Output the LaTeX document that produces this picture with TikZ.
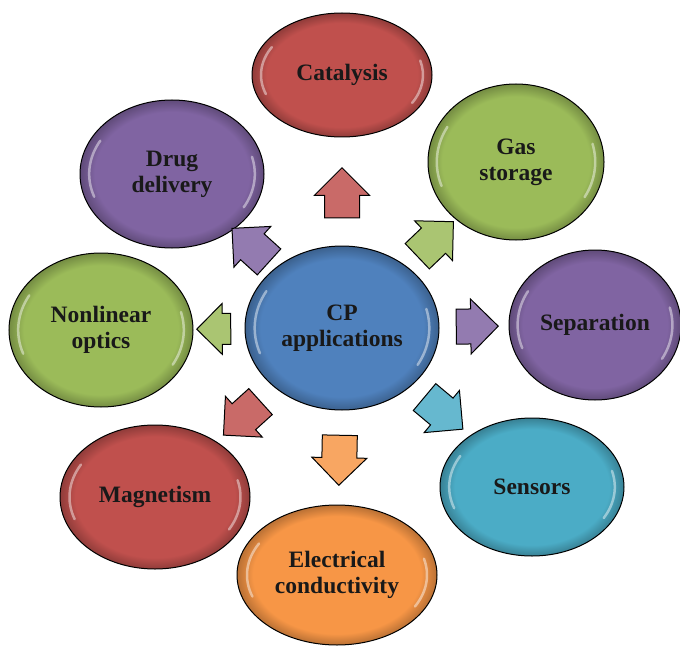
\documentclass[tikz,border=0pt]{standalone}
\usepackage{fontspec}
\setmainfont{Liberation Serif}
\usetikzlibrary{shapes.geometric, shapes.arrows, calc}

\definecolor{cpblue}{HTML}{4F81BD}
\definecolor{cpred}{HTML}{C0504D}
\definecolor{cpgreen}{HTML}{9BBB59}
\definecolor{cppurple}{HTML}{8064A2}
\definecolor{cpcyan}{HTML}{4BACC6}
\definecolor{cporange}{HTML}{F79646}

% flat body with a darker rim
\colorlet{bubblefill}{white}
\pgfdeclareradialshading[bubblefill]{bubble}{\pgfpoint{0bp}{0bp}}{%
  color(0bp)=(bubblefill); color(21bp)=(bubblefill);
  color(25bp)=(bubblefill!75!black); color(50bp)=(bubblefill!75!black)}

\begin{document}
\begin{tikzpicture}[
      x=1pt, y=-1pt,
      gloss/.style={white, opacity=0.45, line width=2.5pt, line cap=round},
      bubble/.style={ellipse, draw=black, line width=1pt, inner sep=0pt, align=center,
        text=black!90, font=\fontsize{23.5}{26}\selectfont\bfseries,
        /utils/exec={\colorlet{bubblefill}{#1}}, shade, shading=bubble,
        path picture={
          \draw[gloss] let \p1=(path picture bounding box.center),
              \p2=(path picture bounding box.north east),
              \n1={0.9*(\x2-\x1)}, \n2={0.9*(\y2-\y1)} in
            (\p1) ++(150:\n1 and \n2) arc[start angle=150, end angle=200, x radius=\n1, y radius=\n2]
            (\p1) ++(-30:\n1 and \n2) arc[start angle=-30, end angle=15, x radius=\n1, y radius=\n2];
        }},
      blockarrow/.style={single arrow, draw=black, line width=1pt, inner sep=0pt,
        text height=17pt, text depth=17pt, minimum height=50pt,
        single arrow head extend=10pt, fill=#1!85!white, sloped, allow upside down}
  ]
  \useasboundingbox (0,0) rectangle (680,650);

  \node [bubble=cpblue, minimum width=194pt, minimum height=164pt] (cp) at (342,328) {CP\\applications};

  \node [bubble=cpred, minimum width=180pt, minimum height=124pt] (cat) at (342,75) {Catalysis};
  \node [bubble=cpgreen, minimum width=176pt, minimum height=156pt] (gas) at (516,162) {Gas\\storage};
  \node [bubble=cppurple, minimum width=172pt, minimum height=150pt] (sep) at (595,325) {Separation};
  \node [bubble=cpcyan, minimum width=184pt, minimum height=138pt] (sens) at (532,487) {Sensors};
  \node [bubble=cporange, minimum width=200pt, minimum height=140pt] (elec) at (337,575) {Electrical\\conductivity};
  \node [bubble=cpred, minimum width=190pt, minimum height=144pt] (magn) at (155,497) {Magnetism};
  \node [bubble=cpgreen, minimum width=184pt, minimum height=154pt] (nlo) at (101,330) {Nonlinear\\optics};
  \node [bubble=cppurple, minimum width=184pt, minimum height=148pt] (drug) at (172,174) {Drug\\delivery};

  \path (cp.center) -- node[blockarrow=cpred] (tocat) {} (cat.center);
  \path (cp.center) -- node[blockarrow=cpgreen] (togas) {} (gas.center);
  \path (cp.center) -- node[blockarrow=cppurple, minimum height=42pt] (tosep) {} (sep.center);
  \path (cp.center) -- node[blockarrow=cpcyan] (tosens) {} (sens.center);
  \path (cp.center) -- node[blockarrow=cporange] (toelec) {} (elec.center);
  \path (cp.center) -- node[blockarrow=cpred] (tomagn) {} (magn.center);
  \path (cp.center) -- node[blockarrow=cpgreen, minimum height=34pt, text height=15pt, text depth=15pt] (tonlo) {} (nlo.center);
  \path (cp.center) -- node[blockarrow=cppurple] (todrug) {} (drug.center);

\end{tikzpicture}
\end{document}
